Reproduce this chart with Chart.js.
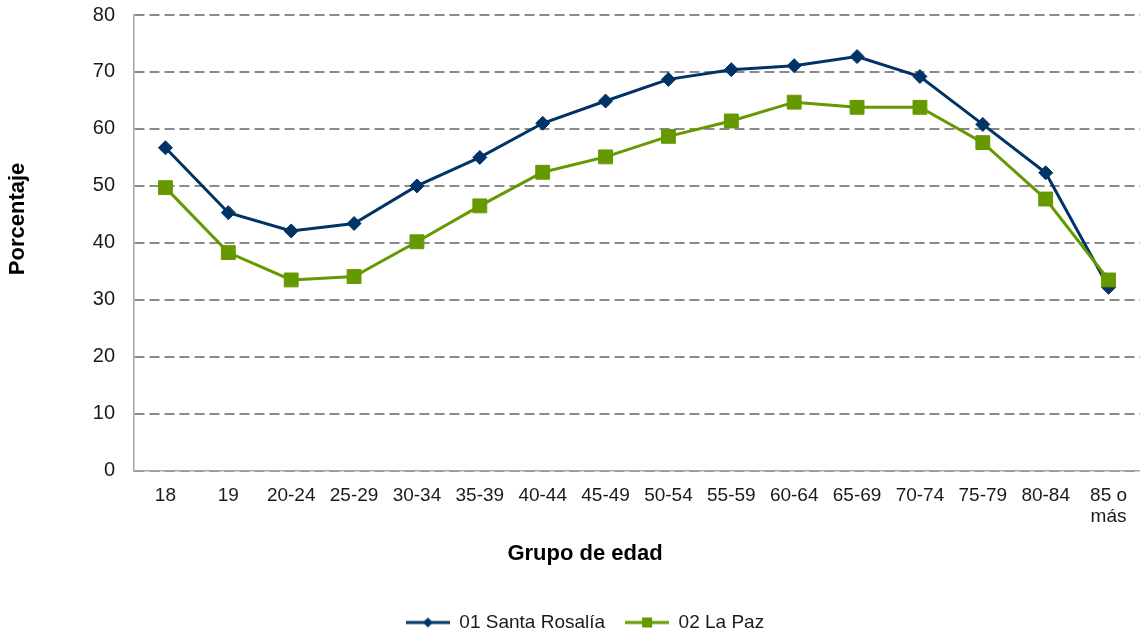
<!DOCTYPE html>
<html>
<head>
<meta charset="utf-8">
<script src="https://cdn.jsdelivr.net/npm/chart.js@4.4.0/dist/chart.umd.min.js"></script>
<style>
  html, body { margin: 0; padding: 0; background: #fff; overflow: hidden; }
  #wrap { width: 1140px; height: 635px; position: relative; }
  #wrap canvas { display: block; }
</style>
</head>
<body>
<div id="wrap"><canvas id="participacion"></canvas></div>
<script>
// grupos de edad y porcentajes por municipio
const grupos = ['18', '19', '20-24', '25-29', '30-34', '35-39', '40-44', '45-49',
  '50-54', '55-59', '60-64', '65-69', '70-74', '75-79', '80-84', ['85 o', 'más']];
const santaRosalia = [56.7, 45.3, 42.1, 43.4, 50.0, 55.0, 61.0, 64.9,
  68.7, 70.4, 71.1, 72.7, 69.2, 60.8, 52.3, 32.2];
const laPaz = [49.7, 38.3, 33.5, 34.1, 40.2, 46.5, 52.4, 55.1,
  58.7, 61.4, 64.7, 63.8, 63.8, 57.6, 47.7, 33.5];
const nombres = ['01 Santa Rosalía', '02 La Paz'];
const colores = ['#003366', '#669900'];

const FUENTE = '"Liberation Sans", Arial, sans-serif';

// icono de leyenda: línea con su marcador al centro
function iconoLeyenda(color, forma) {
  const c = document.createElement('canvas');
  c.width = 44; c.height = 14;
  const g = c.getContext('2d');
  g.strokeStyle = color;
  g.fillStyle = color;
  g.lineWidth = 3;
  g.beginPath(); g.moveTo(0, 7); g.lineTo(44, 7); g.stroke();
  g.beginPath();
  if (forma === 'rombo') {
    g.moveTo(22, 2); g.lineTo(27, 7); g.lineTo(22, 12); g.lineTo(17, 7);
  } else {
    g.rect(17, 2, 10, 10);
  }
  g.closePath(); g.fill();
  return c;
}
const iconos = [iconoLeyenda(colores[0], 'rombo'), iconoLeyenda(colores[1], 'cuadro')];

// título vertical del eje y
const tituloEjeY = {
  id: 'tituloEjeY',
  afterDraw(chart) {
    const { ctx, chartArea } = chart;
    ctx.save();
    ctx.translate(18, (chartArea.top + chartArea.bottom) / 2 - 24);
    ctx.rotate(-Math.PI / 2);
    ctx.font = 'bold 22px ' + FUENTE;
    ctx.fillStyle = '#000';
    ctx.textAlign = 'center';
    ctx.textBaseline = 'middle';
    ctx.fillText('Porcentaje', 0, 0);
    ctx.restore();
  }
};

new Chart(document.getElementById('participacion'), {
  type: 'line',
  data: {
    labels: grupos,
    datasets: [{
      label: nombres[0],
      data: santaRosalia,
      borderColor: colores[0],
      backgroundColor: colores[0],
      borderWidth: 3,
      pointStyle: 'rectRot',
      pointRadius: 7,
      pointBorderWidth: 1,
      tension: 0,
      order: 1
    }, {
      label: nombres[1],
      data: laPaz,
      borderColor: colores[1],
      backgroundColor: colores[1],
      borderWidth: 3,
      pointStyle: 'rect',
      pointRadius: 9.8,
      pointBorderWidth: 1,
      tension: 0,
      order: 0
    }]
  },
  options: {
    responsive: true,
    maintainAspectRatio: false,
    animation: false,
    layout: { autoPadding: false, padding: { left: 30, right: 0, top: 15, bottom: -7 } },
    scales: {
      x: {
        offset: true,
        afterFit(scale) { scale.paddingLeft = 0; scale.paddingRight = 0; },
        grid: { display: false },
        border: { display: true, color: '#a6a6a6', width: 1.5 },
        ticks: {
          color: '#1a1a1a',
          padding: 7,
          maxRotation: 0,
          autoSkip: false,
          font: { family: FUENTE, size: 19, lineHeight: 1.1 }
        }
      },
      y: {
        min: 0,
        max: 80,
        afterFit(scale) {
          scale.width = 104;
          scale.paddingTop = 0;
          scale.paddingBottom = 0;
        },
        grid: { color: '#8a8a8a', lineWidth: 2, drawTicks: false },
        border: { display: true, color: '#a6a6a6', width: 1.5, dash: [10, 5] },
        ticks: {
          stepSize: 10,
          color: '#1a1a1a',
          padding: 19,
          font: { family: FUENTE, size: 20 }
        }
      }
    },
    plugins: {
      tooltip: { enabled: false },
      title: {
        display: true,
        position: 'bottom',
        text: 'Grupo de edad',
        color: '#000',
        weight: 500,
        padding: { top: 6, bottom: 26 },
        font: { family: FUENTE, size: 22, weight: 'bold' }
      },
      legend: {
        position: 'bottom',
        labels: {
          usePointStyle: true,
          pointStyleWidth: 44,
          padding: 20,
          color: '#1a1a1a',
          font: { family: FUENTE, size: 19 },
          sort: (a, b) => a.datasetIndex - b.datasetIndex,
          generateLabels(chart) {
            const items = Chart.defaults.plugins.legend.labels.generateLabels(chart);
            items.forEach(it => { it.pointStyle = iconos[it.datasetIndex]; });
            return items;
          }
        }
      }
    }
  },
  plugins: [tituloEjeY]
});
</script>
</body>
</html>
